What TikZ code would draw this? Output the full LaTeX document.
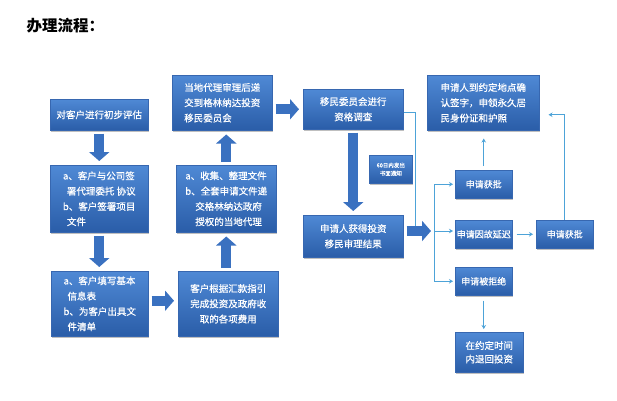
\documentclass[tikz,border=0pt]{standalone}
\usepackage{fontspec}
\newfontfamily\cjk[FakeBold=0.6]{Noto Sans CJK SC}
\newfontfamily\cjktitle{Noto Sans CJK SC}
\usetikzlibrary{arrows.meta,shadows}
\definecolor{boxtop}{HTML}{4F89D5}
\definecolor{boxbot}{HTML}{2A5DA8}
\definecolor{boxedge}{HTML}{3767B0}
\definecolor{arrcol}{HTML}{3A71C0}
\definecolor{conncol}{HTML}{4DA3D8}
\begin{document}
\begin{tikzpicture}[x=1pt,y=-1pt,
  box/.style={rectangle, draw=boxedge, line width=0.5pt, top color=boxtop, bottom color=boxbot,
    text=white, inner sep=0pt, anchor=north west, align=left,
    font=\cjk\fontsize{9.5}{15.3}\selectfont,
    drop shadow={shadow xshift=1.2pt, shadow yshift=-1.5pt, fill=black, opacity=0.25}},
  sbox/.style={box, align=center, font=\cjk\fontsize{9}{13}\selectfont},
  barrow/.style={draw=arrcol, line width=10pt, -{Triangle[width=20pt,length=9pt]}, shorten <=3pt, shorten >=4pt},
  conn/.style={draw=conncol, line width=0.9pt},
  carrow/.style={conn, -{Stealth[length=4pt,width=4.5pt]}}]
\useasboundingbox (0,0) rectangle (617,400);

\node[anchor=west, font=\cjktitle\bfseries\fontsize{15.5}{18}\selectfont] (title) at (23,26) {办理流程：};

% column 1
\node[box, align=center, minimum width=98pt, minimum height=31pt] (b1) at (50,99) {对客户进行初步评估};
\node[box, minimum width=98pt, minimum height=67pt] (b2) at (50,165)
  {a、客户与公司签\\\hspace*{4pt}署代理委托 协议\\b、客户签署项目\\\hspace*{4pt}文件};
\node[box, minimum width=97pt, minimum height=65pt] (b3) at (51,271)
  {a、客户填写基本\\\hspace*{4pt}信息表\\b、为客户出具文\\\hspace*{4pt}件清单};

% column 2
\node[box, minimum width=100pt, minimum height=55pt] (b4) at (172,75)
  {当地代理审理后递\\交到格林纳达投资\\移民委员会};
\node[box, minimum width=100pt, minimum height=67pt] (b5) at (176,165)
  {a、收集、整理文件\\b、全套申请文件递\\\hspace*{10pt}交格林纳达政府\\\hspace*{10pt}授权的当地代理};
\node[box, align=center, minimum width=100pt, minimum height=65pt] (b6) at (178,271)
  {客户根据汇款指引\\完成投资及政府收\\取的各项费用};

% column 3
\node[box, align=center, minimum width=100pt, minimum height=40pt] (b7) at (303,89)
  {移民委员会进行\\资格调查};
\node[box, align=center, minimum width=100pt, minimum height=42pt] (b8) at (303,215)
  {申请人获得投资\\移民审理结果};
\node[box, align=center, font=\cjk\fontsize{5.5}{8}\selectfont, minimum width=43pt, minimum height=28pt] (note) at (369,155)
  {60日内发出\\书面通知};

% column 4
\node[box, minimum width=112pt, minimum height=55pt] (b9) at (427,75)
  {申请人到约定地点确\\认签字，申领永久居\\民身份证和护照};
\node[sbox, minimum width=57pt, minimum height=28pt] (b10) at (455,170) {申请获批};
\node[sbox, minimum width=57pt, minimum height=28pt] (b11) at (455,220) {申请因故延迟};
\node[sbox, minimum width=57pt, minimum height=28pt] (b12) at (536,220) {申请获批};
\node[sbox, minimum width=57pt, minimum height=28pt] (b13) at (455,267) {申请被拒绝};
\node[box, font=\cjk\fontsize{9.5}{13.5}\selectfont, minimum width=68pt, minimum height=40pt] (b14) at (455,332)
  {在约定时间\\内退回投资};

% block arrows
\draw[barrow] (b1.south) -- (b2.north);
\draw[barrow] (b2.south) -- (b2.south |- b3.north);
\draw[barrow] ([yshift=3pt]b3.east) -- ([yshift=3pt]b6.west);
\draw[barrow] (b6.north -| b5.south) -- (b5.south);
\draw[barrow] (b5.north) -- (b5.north |- b4.south);
\draw[barrow] (b4.east |- b7.west) -- (b7.west);
\draw[barrow] (b7.south) -- (b8.north);
\coordinate (br) at (431,231);
\draw[barrow, shorten >=0pt] (b8.east |- br) -- (br);

% thin connectors
\coordinate (c1) at (415,226);
\draw[conn] ([yshift=-3pt]b7.east) -| (c1);
\coordinate (tr) at (434,0);
\draw[conn] (b10.west -| tr) -- (b13.west -| tr);
\draw[carrow, shorten >=2pt] (b10.west -| tr) -- (b10.west);
\draw[carrow, shorten >=2pt] (br -| tr) -- (br -| b11.west);
\draw[carrow, shorten >=2pt] (b13.west -| tr) -- (b13.west);
\draw[carrow, shorten <=4pt, shorten >=8pt] (b10.north) -- (b10.north |- b9.south);
\draw[carrow, shorten <=4pt, shorten >=3pt] (b11.east) -- (b12.west);
\draw[carrow, shorten >=9pt] (b12.north) |- ([yshift=-12pt]b9.east);
\draw[carrow, shorten <=5pt, shorten >=3pt] (b13.south) -- (b13.south |- b14.north);
\end{tikzpicture}
\end{document}
